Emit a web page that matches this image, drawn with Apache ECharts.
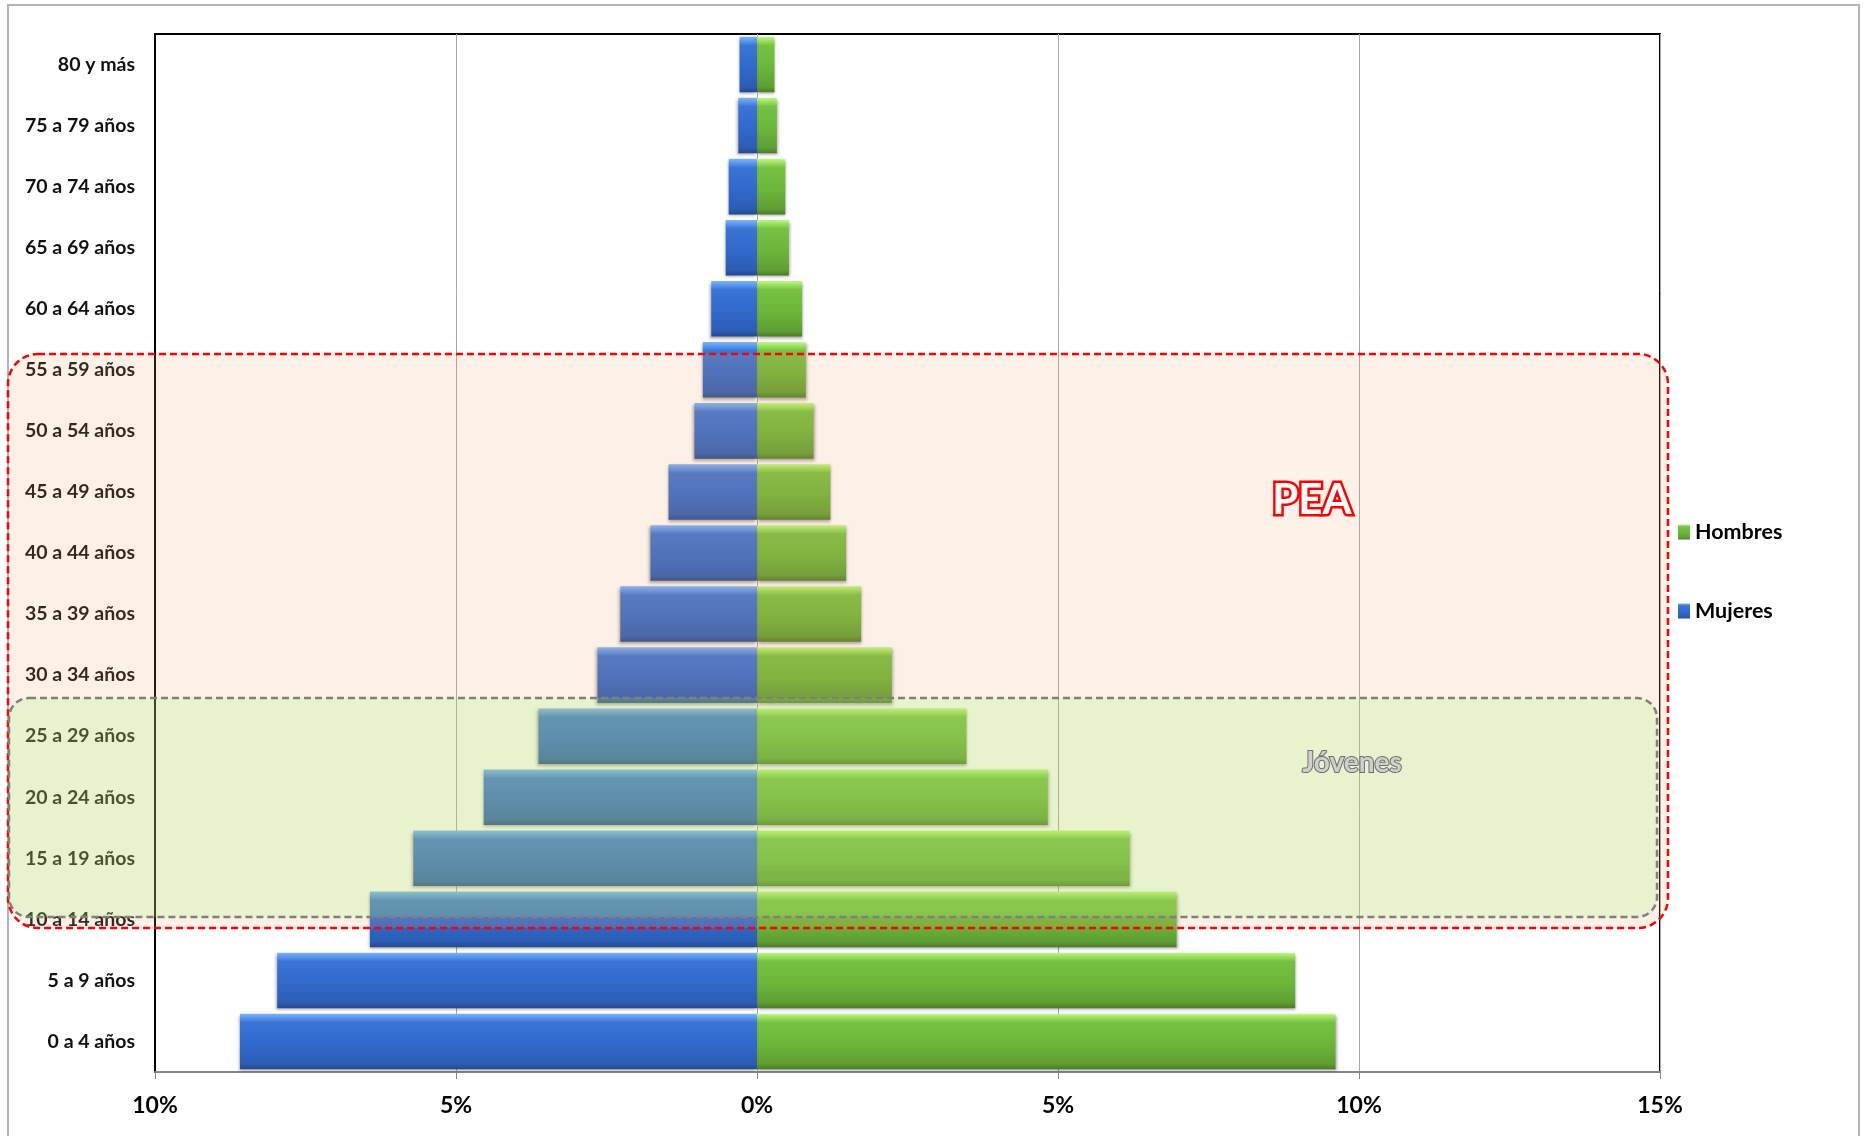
<!DOCTYPE html>
<html>
<head>
    <meta http-equiv="Content-Type" content="text/html; charset=utf-8"/>
    <script type="text/javascript" src="https://cdn.jsdelivr.net/npm/echarts@6/dist/echarts.min.js"></script>
    <style>
        html, body {
            margin: 0;
            padding: 0;
            background: #fff;
        }
        #main {
            width: 1868px;
            height: 1136px;
        }
    </style>
</head>
<body>
<div id="main"></div>
<script type="text/javascript">
    // grupos de edad, de abajo hacia arriba
    var categorias = ['0 a 4 años', '5 a 9 años', '10 a 14 años', '15 a 19 años', '20 a 24 años',
        '25 a 29 años', '30 a 34 años', '35 a 39 años', '40 a 44 años', '45 a 49 años',
        '50 a 54 años', '55 a 59 años', '60 a 64 años', '65 a 69 años', '70 a 74 años',
        '75 a 79 años', '80 y más'];
    // porcentaje de la población
    var mujeres = [8.59, 7.97, 6.43, 5.71, 4.54, 3.63, 2.65, 2.27, 1.77, 1.47,
        1.04, 0.90, 0.76, 0.52, 0.47, 0.31, 0.29];
    var hombres = [9.61, 8.94, 6.97, 6.19, 4.83, 3.48, 2.24, 1.73, 1.48, 1.22,
        0.94, 0.81, 0.75, 0.53, 0.47, 0.33, 0.29];
    var ticks = [-10, -5, 0, 5, 10, 15];

    var fuente = 'Lato, "Open Sans", sans-serif';

    function degradado(c) {
        return new echarts.graphic.LinearGradient(0, 0, 0, 1, [
            {offset: 0, color: c[0]},
            {offset: 0.08, color: c[1]},
            {offset: 0.16, color: c[2]},
            {offset: 0.55, color: c[3]},
            {offset: 0.9, color: c[4]},
            {offset: 1, color: c[5]}
        ]);
    }
    var azul = degradado(['#7ab4ff', '#5a94ec', '#3a74d6', '#3169cc', '#2c5db4', '#24488e']);
    var verde = degradado(['#bff884', '#98de5c', '#76c042', '#6cb63a', '#5f9e34', '#4a7c28']);

    var myChart = echarts.init(document.getElementById('main'));

    var option = {
        backgroundColor: '#fff',
        animation: false,
        grid: {
            left: 155,
            top: 34,
            width: 1505,
            height: 1038,
            show: true,
            borderColor: '#000',
            borderWidth: 2
        },
        legend: {
            orient: 'vertical',
            left: 1673,
            top: 516,
            itemWidth: 12,
            itemHeight: 15,
            itemGap: 57,
            icon: 'rect',
            data: ['Hombres', 'Mujeres'],
            textStyle: {
                fontFamily: fuente,
                fontWeight: 'bold',
                fontSize: 21.5,
                color: '#000'
            }
        },
        xAxis: {
            type: 'value',
            min: ticks[0],
            max: ticks[ticks.length - 1],
            interval: 5,
            axisLine: {show: true, lineStyle: {color: '#868686', width: 2}},
            axisTick: {show: true, length: 7, lineStyle: {color: '#868686'}},
            splitLine: {show: true, lineStyle: {color: '#a6a6a6', width: 1}},
            axisLabel: {
                margin: 22,
                fontFamily: fuente,
                fontWeight: 'bold',
                fontSize: 23,
                color: '#000',
                formatter: function (v) {
                    return Math.abs(v) + '%';
                }
            }
        },
        yAxis: {
            type: 'category',
            data: categorias,
            axisLine: {show: true, onZero: false, lineStyle: {color: '#000', width: 2}},
            axisTick: {show: false},
            axisLabel: {
                margin: 20,
                fontFamily: fuente,
                fontWeight: 'bold',
                fontSize: 19.5,
                color: '#111'
            }
        },
        series: [{
            name: 'Hombres',
            type: 'bar',
            stack: 'piramide',
            barCategoryGap: '9%',
            data: hombres,
            itemStyle: {
                color: verde,
                shadowBlur: 3,
                shadowColor: 'rgba(0,0,0,0.35)',
                shadowOffsetY: 2,
                shadowOffsetX: 1
            }
        }, {
            name: 'Mujeres',
            type: 'bar',
            stack: 'piramide',
            barCategoryGap: '9%',
            data: mujeres.map(function (v) { return -v; }),
            itemStyle: {
                color: azul,
                shadowBlur: 3,
                shadowColor: 'rgba(0,0,0,0.35)',
                shadowOffsetY: 2,
                shadowOffsetX: -1
            }
        }],
        graphic: [
            // marco exterior
            {
                type: 'rect',
                z: 1,
                shape: {x: 8, y: 5, width: 1851, height: 1140},
                style: {fill: 'none', stroke: '#b4b4b4', lineWidth: 2}
            },
            // recuadro PEA
            {
                type: 'rect',
                z: 100,
                shape: {x: 8, y: 354, width: 1660, height: 574, r: 30},
                style: {
                    fill: 'rgba(240,160,100,0.16)',
                    stroke: '#ff0000',
                    lineWidth: 2.5,
                    lineDash: [7, 4]
                }
            },
            // recuadro Jóvenes
            {
                type: 'rect',
                z: 101,
                shape: {x: 9, y: 698, width: 1648, height: 219, r: 20},
                style: {
                    fill: 'rgba(150,255,110,0.2)',
                    stroke: '#7f7f7f',
                    lineWidth: 2.5,
                    lineDash: [7, 4]
                }
            },
            {
                type: 'text',
                z: 110,
                x: 1312,
                y: 500,
                style: {
                    text: 'PEA',
                    fontFamily: fuente,
                    fontWeight: 'bold',
                    fontSize: 42,
                    fill: '#fff',
                    stroke: '#ff0000',
                    lineWidth: 5,
                    align: 'center',
                    verticalAlign: 'middle',
                    shadowBlur: 3,
                    shadowColor: 'rgba(0,0,0,0.4)',
                    shadowOffsetY: 2
                }
            },
            {
                type: 'text',
                z: 110,
                x: 1352,
                y: 763,
                style: {
                    text: 'Jóvenes',
                    fontFamily: fuente,
                    fontWeight: 'bold',
                    fontSize: 28,
                    fill: '#cfcfcf',
                    stroke: '#6e6e6e',
                    lineWidth: 2,
                    align: 'center',
                    verticalAlign: 'middle',
                    shadowBlur: 4,
                    shadowColor: 'rgba(0,0,0,0.5)',
                    shadowOffsetY: 1
                }
            }
        ]
    };
    myChart.setOption(option);
</script>
</body>
</html>
